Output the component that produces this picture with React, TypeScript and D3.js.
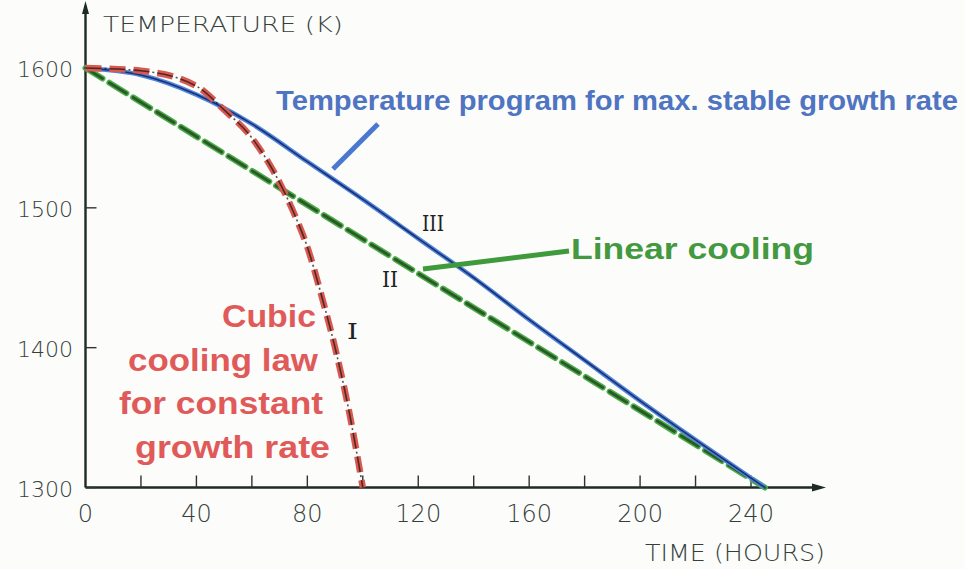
import React from "react";
import * as d3 from "d3";

// Temperature programs, time in hours vs. temperature in K
const blueTime = [0, 20, 40, 60, 80, 100, 120, 140, 160, 180, 200, 220, 245];
const blueTemp = [1600, 1595, 1581, 1560, 1533, 1506, 1478, 1450, 1420, 1391, 1362, 1334, 1300];

const linearTime = [0, 245];
const linearTemp = [1600, 1300];

const cubicTime = [0, 20, 40, 50, 60, 70, 75, 80, 85, 90, 95, 100];
const cubicTemp = [1600, 1598, 1587, 1570, 1550, 1518, 1497, 1472, 1438, 1400, 1355, 1300];

const xTickLabels = [0, 40, 80, 120, 160, 200, 240];
const xMinorTicks = [20, 40, 60, 80, 100, 120, 140, 160, 180, 200, 220, 240];
const yTickLabels = [1300, 1400, 1500, 1600];

const cubicLines = ["Cubic", "cooling law", "for constant", "growth rate"];
const cubicLineRight = [316, 318, 323, 330];
const cubicLineWidth = [94, 190, 204, 195];

const W = 965;
const H = 569;

export default function App() {
  const x = d3.scaleLinear().domain([0, 240]).range([85.5, 751]);
  const y = d3.scaleLinear().domain([1300, 1600]).range([487.5, 68]);
  const axisY = y(1300);
  const axisX = x(0);

  const line = d3
    .line<[number, number]>()
    .x((d) => x(d[0]))
    .y((d) => y(d[1]))
    .curve(d3.curveMonotoneX);

  const bluePath = line(blueTime.map((t, i) => [t, blueTemp[i]]))!;
  const linearPath = line(linearTime.map((t, i) => [t, linearTemp[i]]))!;
  const cubicPath = line(cubicTime.map((t, i) => [t, cubicTemp[i]]))!;

  const tickFont = "'DejaVu Sans', sans-serif";
  const labelFont = "'Liberation Sans', Arial, sans-serif";
  const romanFont = "'DejaVu Serif', serif";

  return (
    <svg
      width={W}
      height={H}
      viewBox={`0 0 ${W} ${H}`}
      style={{ position: "absolute", left: 0, top: 0, background: "#fcfcfa" }}
    >
      <rect x={0} y={0} width={W} height={H} fill="#fcfcfa" />

      {/* axes */}
      <line x1={axisX} y1={axisY} x2={815} y2={axisY} stroke="#1e2a24" strokeWidth={2.4} />
      <path d={`M826,${axisY} L812,${axisY - 4} L812,${axisY + 4} Z`} fill="#1e2a24" />
      <line x1={axisX} y1={axisY} x2={axisX} y2={10} stroke="#1e2a24" strokeWidth={2.4} />
      <path d={`M${axisX},1 L${axisX - 3.5},14 L${axisX + 3.5},14 Z`} fill="#1e2a24" />

      {xMinorTicks.map((t) => (
        <line key={`xt${t}`} x1={x(t)} x2={x(t)} y1={axisY} y2={axisY - 12} stroke="#2a3530" strokeWidth={1.4} />
      ))}
      {yTickLabels.map((v) => (
        <line key={`yt${v}`} x1={axisX} x2={axisX + 11} y1={y(v)} y2={y(v)} stroke="#2a3530" strokeWidth={1.4} />
      ))}

      {xTickLabels.map((t) => (
        <text
          key={`xl${t}`}
          x={x(t)}
          y={522}
          textAnchor="middle"
          fontFamily={tickFont}
          fontWeight={200}
          fontSize={24}
          fill="#34403a"
        >
          {t}
        </text>
      ))}
      {yTickLabels.map((v) => (
        <text
          key={`yl${v}`}
          x={73}
          y={y(v) + 9}
          textAnchor="end"
          fontFamily={tickFont}
          fontWeight={200}
          fontSize={22}
          fill="#34403a"
        >
          {v}
        </text>
      ))}

      <text x={103} y={32} fontFamily={tickFont} fontWeight={200} fontSize={22} fill="#34403a" textLength={240} lengthAdjust="spacingAndGlyphs">
        TEMPERATURE (K)
      </text>
      <text x={645} y={561} fontFamily={tickFont} fontWeight={200} fontSize={23} fill="#34403a" textLength={180} lengthAdjust="spacingAndGlyphs">
        TIME (HOURS)
      </text>

      {/* curve II: linear cooling */}
      <path d={linearPath} fill="none" stroke="#4cae4a" strokeWidth={6} strokeDasharray="20,8" strokeLinecap="round" />
      <path d={linearPath} fill="none" stroke="#2b5a28" strokeWidth={3} strokeDasharray="20,8" strokeLinecap="round" />

      {/* curve III: max. stable growth rate */}
      <path d={bluePath} fill="none" stroke="#4f86dc" strokeWidth={4.5} />
      <path d={bluePath} fill="none" stroke="#1c2f72" strokeWidth={1.6} />

      {/* curve I: cubic cooling law */}
      <path d={cubicPath} fill="none" stroke="#d65a52" strokeWidth={6.5} strokeDasharray="16,8" />
      <path d={cubicPath} fill="none" stroke="#2a1512" strokeWidth={1.6} strokeDasharray="16,3,2,3" opacity={0.75} />

      {/* roman numerals */}
      <text x={422} y={231} fontFamily={romanFont} fontSize={23} fill="#222" textLength={22} lengthAdjust="spacingAndGlyphs">
        III
      </text>
      <text x={382} y={287} fontFamily={romanFont} fontSize={23} fill="#222" textLength={16} lengthAdjust="spacingAndGlyphs">
        II
      </text>
      <text x={347} y={339} fontFamily={romanFont} fontSize={23} fill="#222" textLength={11} lengthAdjust="spacingAndGlyphs">
        I
      </text>

      {/* annotations */}
      <line x1={333} y1={169} x2={378} y2={124} stroke="#4a78d0" strokeWidth={5} />
      <text x={276} y={110} fontFamily={labelFont} fontWeight={700} fontSize={27.5} fill="#4f74c2" textLength={682} lengthAdjust="spacingAndGlyphs">
        Temperature program for max. stable growth rate
      </text>

      <line x1={423} y1={269} x2={569} y2={251} stroke="#3f9a3c" strokeWidth={5} />
      <text x={571} y={259} fontFamily={labelFont} fontWeight={700} fontSize={29} fill="#43993f" textLength={243} lengthAdjust="spacingAndGlyphs">
        Linear cooling
      </text>

      {cubicLines.map((s, i) => (
        <text
          key={s}
          x={cubicLineRight[i] - cubicLineWidth[i]}
          y={327 + i * 43.5}
          fontFamily={labelFont}
          fontWeight={700}
          fontSize={30.5}
          fill="#e05a5a"
          textLength={cubicLineWidth[i]}
          lengthAdjust="spacingAndGlyphs"
        >
          {s}
        </text>
      ))}
    </svg>
  );
}
